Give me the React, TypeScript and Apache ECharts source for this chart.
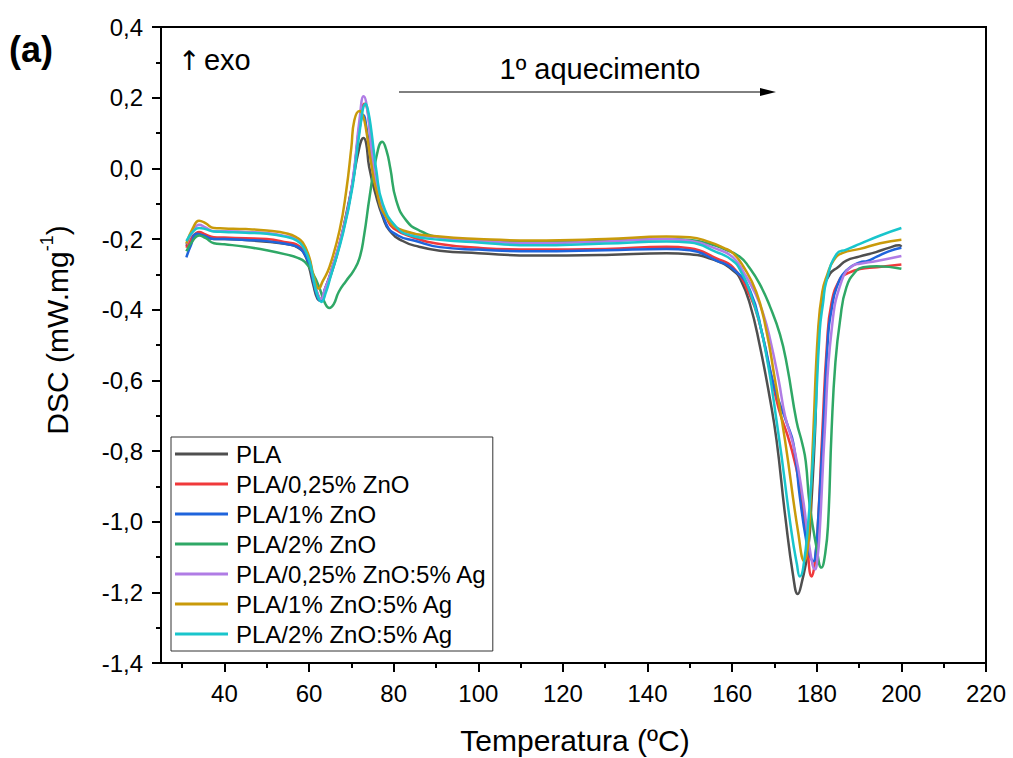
import React, { useEffect, useRef } from 'react';
import * as echarts from 'echarts';

const FONT = '"Liberation Sans", Arial, sans-serif';

const seriesNames = [
  'PLA',
  'PLA/0,25% ZnO',
  'PLA/1% ZnO',
  'PLA/2% ZnO',
  'PLA/0,25% ZnO:5% Ag',
  'PLA/1% ZnO:5% Ag',
  'PLA/2% ZnO:5% Ag',
];
const seriesColors = ['#4f4f4f', '#f0393b', '#1f64dc', '#2fa866', '#b07ce5', '#c99a0a', '#19c5cc'];

const xLabelTicks = [40, 60, 80, 100, 120, 140, 160, 180, 200, 220];
const xMinorTicks = [30, 50, 70, 90, 110, 130, 150, 170, 190, 210];

const pla = [
  [31, -0.22], [32, -0.2], [33.5, -0.185], [35, -0.19], [37.5, -0.2], [40, -0.2], [45, -0.203], [50, -0.208],
  [55, -0.215], [57.5, -0.225], [59, -0.245], [60, -0.28], [61, -0.33], [62, -0.37], [62.8, -0.375], [64, -0.34],
  [66, -0.27], [67.5, -0.2], [68.8, -0.129], [70, -0.06], [71.9, 0.06], [72.9, 0.086], [73.5, 0.07], [74.2, 0.004],
  [75.9, -0.081], [77.5, -0.14], [79, -0.176], [82, -0.205], [86, -0.222], [90.9, -0.233], [100, -0.24],
  [112.8, -0.247], [130, -0.245], [144.5, -0.24], [150, -0.243], [156.3, -0.262], [160.2, -0.289], [162, -0.315],
  [164.2, -0.384], [166.5, -0.5], [168.9, -0.65], [170.5, -0.77], [172.5, -0.98], [174.5, -1.16],
  [175.5, -1.205], [176.4, -1.175], [178, -1.074], [178.8, -0.932], [179.6, -0.743], [180.3, -0.5],
  [181.5, -0.35], [183.1, -0.299], [185, -0.28], [187, -0.261], [190, -0.25], [194, -0.237], [197, -0.225],
  [199.5, -0.218], [200, -0.222],
];

const zno025 = [
  [31, -0.225], [32.5, -0.195], [34, -0.18], [35.5, -0.187], [37.5, -0.195], [40, -0.196], [45, -0.198], [50, -0.2],
  [55, -0.21], [57, -0.215], [58.5, -0.23], [60, -0.265], [61, -0.31], [62, -0.355], [62.8, -0.37], [63.8, -0.34],
  [65, -0.3], [68, -0.176], [70.3, -0.04], [72, 0.13], [73.1, 0.183], [74, 0.15], [75.1, 0.013], [76.7, -0.081],
  [78.5, -0.145], [80, -0.17], [84.5, -0.195], [90.9, -0.214], [100, -0.225], [112.8, -0.23], [130, -0.228],
  [144.5, -0.222], [150, -0.226], [156.3, -0.255], [160.2, -0.28], [164.2, -0.36], [166.5, -0.44], [168.9, -0.57],
  [171, -0.68], [173.7, -0.78], [176, -0.9], [177.6, -1.05], [178.8, -1.155], [179.5, -1.12], [180.3, -1.0],
  [181.3, -0.75], [182.4, -0.5], [183.5, -0.38], [185.5, -0.313], [187, -0.299], [190.2, -0.285], [194.2, -0.28],
  [200, -0.272],
];

const zno1 = [
  [31, -0.252], [32, -0.22], [33.5, -0.185], [35, -0.19], [37.5, -0.2], [40, -0.2], [45, -0.203], [50, -0.206],
  [55, -0.215], [57, -0.221], [58.5, -0.235], [60, -0.27], [61, -0.32], [62, -0.365], [62.7, -0.375], [63.8, -0.34],
  [65, -0.3], [68, -0.18], [70.3, -0.04], [71.9, 0.11], [72.9, 0.15], [73.5, 0.12], [74.2, 0.06], [75.9, -0.053],
  [78.2, -0.157], [81, -0.19], [85, -0.205], [90.9, -0.223], [100, -0.23], [112.8, -0.235], [130, -0.232],
  [144.5, -0.228], [150, -0.232], [156.3, -0.261], [160.2, -0.285], [164.2, -0.345], [167.3, -0.479],
  [170, -0.62], [172.9, -0.72], [174.5, -0.78], [176, -0.93], [177.6, -1.06], [178.5, -1.1], [179.2, -1.112],
  [179.8, -1.08], [180.3, -1.0], [181.5, -0.743], [182.7, -0.47], [183.5, -0.4], [184.7, -0.337],
  [187, -0.289], [190.2, -0.266], [192, -0.262], [194.2, -0.25], [197, -0.235], [200, -0.225],
];

const zno2 = [
  [31, -0.235], [32.5, -0.205], [34, -0.19], [35.5, -0.197], [37.5, -0.212], [40, -0.215], [45, -0.222],
  [50, -0.232], [55, -0.245], [57, -0.252], [59, -0.265], [61, -0.3], [62.5, -0.34], [63.7, -0.38],
  [64.8, -0.395], [65.8, -0.385], [67, -0.35], [68.8, -0.318], [70.5, -0.29], [71.9, -0.255], [73, -0.19],
  [74.3, -0.081], [75.9, 0.032], [77.3, 0.075], [78.3, 0.05], [79.2, 0.0], [80.6, -0.091], [83, -0.148],
  [86.1, -0.176], [90.9, -0.195], [100, -0.203], [112.8, -0.207], [130, -0.205], [144.5, -0.2], [150, -0.203],
  [155, -0.215], [158, -0.228], [161.8, -0.25], [164, -0.28], [166.5, -0.327], [168.9, -0.39], [171.3, -0.47],
  [173, -0.56], [175.2, -0.715], [176.6, -0.78], [177.4, -0.83], [178.3, -0.95], [179.9, -1.07], [181.1, -1.13],
  [182, -1.09], [182.7, -1.0], [183.5, -0.743], [184.4, -0.55], [185.5, -0.431], [187, -0.337], [189.4, -0.289],
  [191, -0.28], [194.2, -0.277], [200, -0.284],
];

const zno025ag = [
  [31, -0.215], [32.5, -0.18], [34, -0.16], [35.5, -0.167], [37.5, -0.178], [40, -0.178], [45, -0.18],
  [50, -0.183], [55, -0.193], [57, -0.2], [58.5, -0.215], [60, -0.255], [61, -0.31], [62, -0.355], [62.8, -0.37],
  [63.8, -0.34], [64.8, -0.308], [68, -0.176], [70.3, -0.034], [71.9, 0.136], [72.9, 0.204], [73.9, 0.155],
  [75.1, 0.013], [76.7, -0.081], [79.8, -0.157], [84.5, -0.185], [90.9, -0.196], [100, -0.205], [112.8, -0.212],
  [130, -0.207], [144.5, -0.2], [150, -0.205], [156.3, -0.228], [160.2, -0.252], [163, -0.3], [165.5, -0.355],
  [167.3, -0.41], [168.9, -0.48], [171, -0.6], [172.5, -0.7], [174.8, -0.8], [176.8, -0.94], [178.3, -1.074],
  [179.6, -1.135], [180.2, -1.1], [180.7, -1.027], [181.9, -0.743], [183.5, -0.459], [185.9, -0.318],
  [188.6, -0.275], [190.2, -0.27], [194.2, -0.262], [200, -0.248],
];

const zno1ag = [
  [31, -0.213], [32.5, -0.17], [34, -0.148], [35.5, -0.155], [37.5, -0.169], [40, -0.17], [45, -0.172],
  [50, -0.176], [55, -0.185], [57, -0.195], [58.5, -0.21], [60, -0.25], [61, -0.3], [62.3, -0.34], [63.2, -0.32],
  [64.8, -0.28], [67.2, -0.176], [68.8, -0.062], [70, 0.06], [70.7, 0.136], [71.9, 0.162], [72.7, 0.15],
  [73.5, 0.108], [74.7, 0.013], [75.9, -0.062], [78.2, -0.138], [82.2, -0.176], [90.9, -0.193], [100, -0.2],
  [112.8, -0.204], [130, -0.2], [144.5, -0.193], [150, -0.195], [154.7, -0.209], [158, -0.225], [160.2, -0.24],
  [162.5, -0.275], [165.7, -0.35], [168.1, -0.46], [170, -0.59], [172.5, -0.77], [175.6, -1.03], [177.1, -1.112],
  [177.8, -1.08], [178.3, -1.0], [179.2, -0.743], [180.3, -0.46], [181.3, -0.35], [182.5, -0.3], [184, -0.26],
  [186, -0.24], [190.2, -0.228], [195, -0.212], [200, -0.202],
];

const zno2ag = [
  [31, -0.206], [32.5, -0.18], [34, -0.169], [35.5, -0.172], [37.5, -0.179], [40, -0.18], [45, -0.182],
  [50, -0.185], [55, -0.195], [57, -0.204], [58.5, -0.22], [60, -0.26], [61, -0.31], [62, -0.36], [62.9, -0.378],
  [64, -0.35], [65, -0.31], [68, -0.185], [70.3, -0.05], [71.9, 0.1], [73.4, 0.183], [74, 0.16], [74.7, 0.108],
  [75.9, -0.006], [77.4, -0.1], [80.6, -0.166], [84, -0.19], [90.9, -0.202], [100, -0.21], [112.8, -0.218],
  [130, -0.213], [144.5, -0.207], [150, -0.21], [156.3, -0.237], [160, -0.26], [162, -0.29], [164.5, -0.36],
  [167.3, -0.48], [170.8, -0.74], [174, -1.027], [175.3, -1.12], [176, -1.155], [176.8, -1.13], [178, -1.0],
  [179.5, -0.743], [180.7, -0.46], [181.5, -0.38], [182.3, -0.318], [184.7, -0.242], [187, -0.23],
  [190.2, -0.214], [195, -0.19], [200, -0.169],
];

const seriesData = [pla, zno025, zno1, zno2, zno025ag, zno1ag, zno2ag];

export default function App() {
  const ref = useRef<HTMLDivElement>(null);
  useEffect(() => {
    document.body.style.margin = '0';
    if (!ref.current) return;
    const chart = echarts.init(ref.current, undefined, { renderer: 'svg' });
    const commonX = { type: 'value', min: 25, max: 220, splitLine: { show: false } };
    chart.setOption({
      animation: false,
      backgroundColor: '#ffffff',
      textStyle: { fontFamily: FONT },
      grid: {
        left: 161, top: 27, width: 825, height: 636,
        show: true, borderColor: '#000', borderWidth: 2, backgroundColor: 'transparent',
      },
      xAxis: [
        {
          ...commonX,
          position: 'bottom',
          axisLine: { show: true, onZero: false, lineStyle: { color: '#000', width: 2 } },
          axisTick: { show: true, inside: false, length: 9, customValues: xLabelTicks, lineStyle: { color: '#000', width: 2 } },
          axisLabel: { show: true, customValues: xLabelTicks, margin: 18, fontSize: 24, color: '#000', fontFamily: FONT },
        },
        {
          ...commonX,
          position: 'bottom',
          axisLine: { show: false, onZero: false },
          axisTick: { show: true, inside: false, length: 5, customValues: xMinorTicks, lineStyle: { color: '#000', width: 2 } },
          axisLabel: { show: false },
        },
      ],
      yAxis: {
        type: 'value', min: -1.4, max: 0.4, interval: 0.2,
        splitLine: { show: false },
        axisLine: { show: true, onZero: false, lineStyle: { color: '#000', width: 2 } },
        axisTick: { show: true, inside: false, length: 9, lineStyle: { color: '#000', width: 2 } },
        minorTick: { show: true, splitNumber: 2, length: 5, lineStyle: { color: '#000', width: 2 } },
        axisLabel: {
          margin: 18, fontSize: 24, color: '#000', fontFamily: FONT,
          formatter: (v: number) => (Math.abs(v) < 1e-9 ? 0 : v).toFixed(1).replace('.', ','),
        },
      },
      legend: {
        show: true,
        orient: 'vertical',
        left: 171, top: 437,
        padding: [4, 6, 4, 4],
        icon: 'rect',
        itemWidth: 53, itemHeight: 3, itemGap: 4,
        borderColor: '#333', borderWidth: 1,
        backgroundColor: '#fff',
        textStyle: { fontSize: 24, lineHeight: 26, color: '#000', fontFamily: FONT, padding: [0, 0, 0, 3] },
        data: seriesNames,
      },
      series: seriesData.map((d, i) => ({
        name: seriesNames[i],
        type: 'line',
        xAxisIndex: 0,
        data: d,
        showSymbol: false,
        symbol: 'none',
        smooth: 0.5,
        lineStyle: { color: seriesColors[i], width: 2.5 },
        itemStyle: { color: seriesColors[i] },
        z: 2 + i,
      })),
      graphic: [
        {
          type: 'text', left: 9, top: 31,
          style: { text: '(a)', font: `bold 36px ${FONT}`, fill: '#000' },
        },
        {
          type: 'text', x: 178, y: 60,
          style: {
            text: '{r|↑} {t|exo}',
            verticalAlign: 'middle', fill: '#000',
            rich: {
              r: { fontFamily: '"DejaVu Sans", sans-serif', fontSize: 27, lineHeight: 32 },
              t: { fontFamily: FONT, fontSize: 29, lineHeight: 32 },
            },
          },
        },
        {
          type: 'text', x: 600, y: 69,
          style: { text: '1º aquecimento', font: `29px ${FONT}`, fill: '#000', align: 'center', verticalAlign: 'middle' },
        },
        {
          type: 'line',
          shape: { x1: 399, y1: 92, x2: 762, y2: 92 },
          style: { stroke: '#000', lineWidth: 1 },
        },
        {
          type: 'polygon',
          shape: { points: [[760, 88], [776, 92], [760, 96]] },
          style: { fill: '#000' },
        },
        {
          type: 'text', x: 575, y: 740,
          style: { text: 'Temperatura (ºC)', font: `30px ${FONT}`, fill: '#000', align: 'center', verticalAlign: 'middle' },
        },
        {
          type: 'text', x: 55, y: 330, rotation: Math.PI / 2,
          style: {
            text: '{a|DSC (mW.mg}{s|-1}{a|)}',
            align: 'center', verticalAlign: 'middle', fill: '#000',
            rich: {
              a: { fontSize: 30, fontFamily: FONT, lineHeight: 34, verticalAlign: 'bottom' },
              s: { fontSize: 18, fontFamily: FONT, lineHeight: 34, verticalAlign: 'top' },
            },
          },
        },
      ],
    });
    return () => chart.dispose();
  }, []);
  return <div ref={ref} style={{ width: 1013, height: 758 }} />;
}
